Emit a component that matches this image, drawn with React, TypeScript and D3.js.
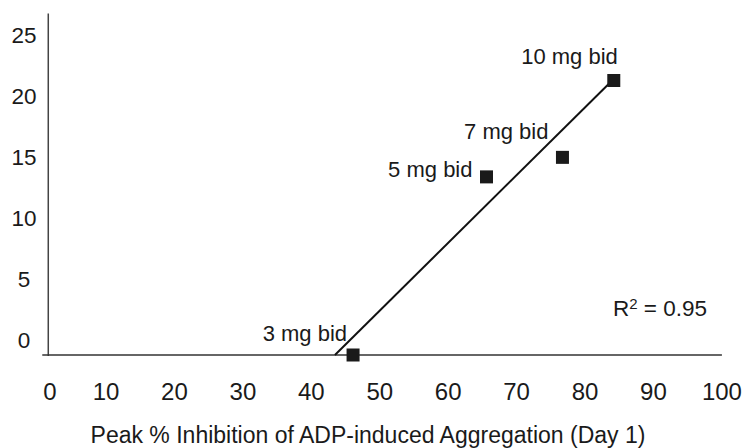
import React from "react";
import * as d3 from "d3";

const doseLabels = ["3 mg bid", "5 mg bid", "7 mg bid", "10 mg bid"];
const inhibition = [46.1, 65.6, 76.7, 84.2];
const responseValues = [0, 14.6, 16.2, 22.5];
const trendX = [43.45, 83.6];
const trendY = [0, 22.3];
const xTicks = [0, 10, 20, 30, 40, 50, 60, 70, 80, 90, 100];
const yTicks = [0, 5, 10, 15, 20, 25];
const xTitle = "Peak % Inhibition of ADP-induced Aggregation (Day 1)";
const r2Value = "0.95";

// label offsets (styling, px) per dose label: [dx, dy]
const labelOffsets = [
  [-6, -14],
  [-14, 0],
  [-14, -18],
  [4, -17],
];

const W = 747;
const H = 448;
const FONT = "'Liberation Sans', Arial, Helvetica, sans-serif";

export default function App() {
  const x = d3.scaleLinear().domain([0, 100]).range([37.6, 721.9]);
  const y = d3.scaleLinear().domain([0, 28]).range([355, 13.4]);

  const yAxisX = x(1.56);
  const points = doseLabels.map((label, i) => ({
    label,
    x: inhibition[i],
    y: responseValues[i],
  }));
  const trend = trendX.map((v, i) => [v, trendY[i]] as [number, number]);
  const line = d3
    .line<[number, number]>()
    .x((d) => x(d[0]))
    .y((d) => y(d[1]));

  const sq = 13;

  return (
    <svg
      width={W}
      height={H}
      style={{ position: "absolute", left: 0, top: 0, background: "#fff" }}
      fontFamily={FONT}
    >
      <rect x={0} y={0} width={W} height={H} fill="#fff" />
      {/* axes */}
      <line
        x1={yAxisX}
        x2={yAxisX}
        y1={y(28)}
        y2={y(0) + 1}
        stroke="#444"
        strokeWidth={1.5}
      />
      <line
        x1={yAxisX - 6}
        x2={x(100)}
        y1={y(0)}
        y2={y(0)}
        stroke="#333"
        strokeWidth={1.5}
      />
      {/* y tick labels */}
      {yTicks.map((t) => (
        <text
          key={"y" + t}
          x={24}
          y={y(t) - 7}
          textAnchor="middle"
          fontSize={22.5}
          fill="#1a1a1a"
        >
          {t}
        </text>
      ))}
      {/* x tick labels */}
      {xTicks.map((t) => (
        <text
          key={"x" + t}
          x={t === 0 ? x(t) + 12.4 : x(t)}
          y={400}
          textAnchor="middle"
          fontSize={24}
          fill="#1a1a1a"
        >
          {t}
        </text>
      ))}
      {/* x title */}
      <text
        x={368}
        y={443}
        textAnchor="middle"
        fontSize={23}
        fill="#1a1a1a"
      >
        {xTitle}
      </text>
      {/* trend line */}
      <path d={line(trend) || ""} fill="none" stroke="#111" strokeWidth={2} />
      {/* points */}
      {points.map((p) => (
        <rect
          key={p.label}
          x={x(p.x) - sq / 2}
          y={y(p.y) - sq / 2}
          width={sq}
          height={sq}
          fill="#1a1a1a"
        />
      ))}
      {/* point labels */}
      {points.map((p, i) => (
        <text
          key={"l" + p.label}
          x={x(p.x) + labelOffsets[i][0]}
          y={y(p.y) + labelOffsets[i][1]}
          textAnchor="end"
          fontSize={22}
          fill="#1a1a1a"
        >
          {p.label}
        </text>
      ))}
      {/* R squared */}
      <text x={613} y={316} fontSize={22.5} fill="#1a1a1a">
        R
        <tspan fontSize={15} dy={-7}>
          2
        </tspan>
        <tspan dy={7}>{" = " + r2Value}</tspan>
      </text>
    </svg>
  );
}
